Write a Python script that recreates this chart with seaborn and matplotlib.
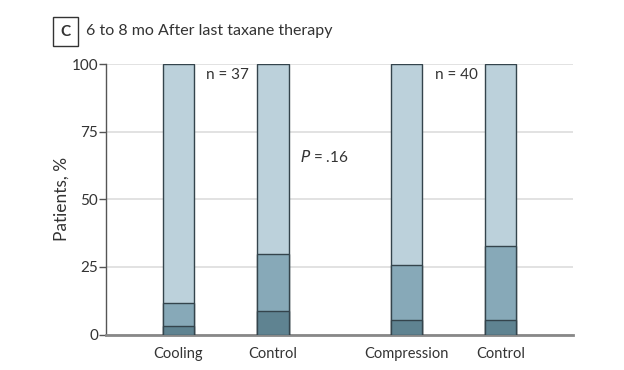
import numpy as np
import pandas as pd
import matplotlib
matplotlib.use("Agg")
import matplotlib.pyplot as plt
import seaborn as sns

# data (segment %, stacked from bottom)
groups = ["Cooling", "Control", "Compression", "Control"]
positions = [0.0, 1.0, 2.41, 3.41]
dark = [3.0, 8.8, 5.3, 5.5]
mid = [8.5, 20.8, 20.4, 27.2]
light = [88.5, 70.4, 74.3, 67.3]

COLOR_LIGHT = "#bcd1db"
COLOR_MID = "#87a9b8"
COLOR_DARK = "#5f8391"
EDGE = "#34444c"
TEXT = "#333333"

sns.set_theme(style="white")
plt.rcParams["font.family"] = ["Lato", "DejaVu Sans"]

df = pd.DataFrame({"pos": positions, "group": groups,
                   "dark": dark, "mid": mid, "light": light})
df["cum_dark"] = df["dark"]
df["cum_mid"] = df["dark"] + df["mid"]
df["cum_light"] = df["cum_mid"] + df["light"]

fig = plt.figure(figsize=(6.24, 3.70), dpi=100)
ax = fig.add_axes([106 / 624, 1 - 334.5 / 370, (573 - 106) / 624, (334.5 - 64) / 370])

# draw tallest first so the lower segments sit on top
for col, color in [("cum_light", COLOR_LIGHT), ("cum_mid", COLOR_MID), ("cum_dark", COLOR_DARK)]:
    sns.barplot(data=df, x="pos", y=col, native_scale=True, width=0.33,
                color=color, edgecolor=EDGE, linewidth=1.0, saturation=1,
                ax=ax, zorder=3)

ax.set_xlim(-0.767, 4.175)
ax.set_ylim(0, 100)
ax.set_yticks([0, 25, 50, 75, 100])
ax.set_xticks(positions)
ax.set_xticklabels(groups)
ax.yaxis.grid(True, color="#dddddd", linewidth=1.2, zorder=0)
ax.set_axisbelow(True)

for s in ["top", "right"]:
    ax.spines[s].set_visible(False)
ax.spines["left"].set_color("#555555")
ax.spines["left"].set_linewidth(1.0)
ax.spines["bottom"].set_color("#888888")
ax.spines["bottom"].set_linewidth(2.0)

ax.tick_params(axis="y", length=5, width=1.0, color="#555555", labelsize=11,
               labelcolor=TEXT, pad=0.8, left=True)
ax.tick_params(axis="x", length=0, labelsize=10.5, labelcolor=TEXT, pad=9)
ax.set_xlabel("")
ax.set_ylabel("Patients, %", fontsize=12.5, color=TEXT, labelpad=1)

ax.text(0.29, 96, "n = 37", fontsize=11, color=TEXT, va="center", ha="left")
ax.text(2.71, 96, "n = 40", fontsize=11, color=TEXT, va="center", ha="left")
ax.text(1.29, 65.5, "$\\it{P}$ = .16", fontsize=11, color=TEXT, va="center", ha="left")

# panel letter in a box, then the panel title
fig.text(65.5 / 624, 1 - 31.5 / 370, "C", fontsize=11, color=TEXT, ha="center", va="center",
         fontweight="bold",
         bbox=dict(boxstyle="square,pad=0.5", facecolor="white", edgecolor="#333333", linewidth=1.0))
fig.text(86 / 624, 1 - 31.5 / 370, "6 to 8 mo After last taxane therapy", fontsize=11.5,
         color=TEXT, ha="left", va="center")

fig.savefig("out.png", dpi=100)
